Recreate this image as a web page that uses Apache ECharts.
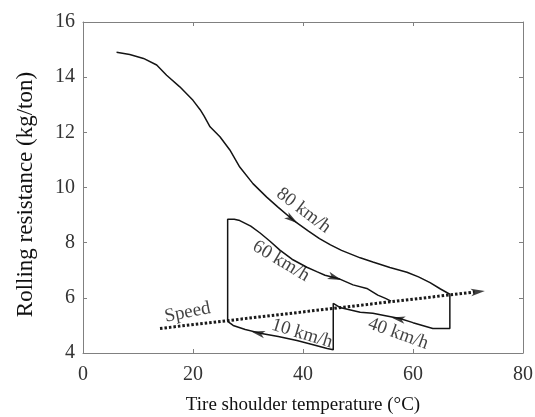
<!DOCTYPE html>
<html>
<head>
<meta charset="utf-8">
<script src="https://cdn.jsdelivr.net/npm/echarts@6/dist/echarts.min.js"></script>
<style>
html,body{margin:0;padding:0;background:#fff;}
#chart{width:535px;height:417px;}
</style>
</head>
<body>
<div id="chart"></div>
<script>
// ---- data ----
var xTicks = [0, 20, 40, 60, 80];
var yTicks = [4, 6, 8, 10, 12, 14, 16];

// 80 km/h warm-up curve
var curve80X = [6.1, 8.5, 11.0, 13.4, 15.2, 17.6, 20.0, 21.3, 22.0, 23.1, 24.9, 26.7, 28.5, 30.9, 33.4, 35.5, 38.2, 41, 43, 45, 47, 50.4, 52.7, 55.8, 58.9, 61, 63.1, 65, 66.7];
var curve80Y = [14.9, 14.82, 14.68, 14.44, 14.07, 13.65, 13.16, 12.82, 12.6, 12.2, 11.84, 11.36, 10.74, 10.14, 9.65, 9.28, 8.82, 8.42, 8.15, 7.92, 7.72, 7.45, 7.3, 7.1, 6.93, 6.76, 6.55, 6.32, 6.13];

// speed drop to 40 km/h and the 40 km/h curve
var curve40X = [66.7, 66.7, 63.6, 60, 57.6, 55, 52.7, 50.4, 46.7, 45.5];
var curve40Y = [6.13, 4.89, 4.89, 5.1, 5.25, 5.35, 5.44, 5.48, 5.65, 5.8];

// speed drop to 10 km/h and the 10 km/h curve
var curve10X = [45.5, 45.5, 44.4, 41.5, 38.9, 35.5, 32.2, 29.5, 27.3, 26.3];
var curve10Y = [5.8, 4.12, 4.16, 4.32, 4.45, 4.6, 4.72, 4.85, 5.0, 5.15];

// speed rise to 60 km/h and the 60 km/h curve
var curve60X = [26.3, 26.3, 27.5, 28.5, 30.5, 32.2, 34, 35.8, 38, 40.7, 42.5, 44, 46.7, 49.1, 51.6, 53.6, 55, 56];
var curve60Y = [5.15, 8.85, 8.85, 8.8, 8.6, 8.35, 8.05, 7.73, 7.4, 7.11, 6.95, 6.82, 6.68, 6.47, 6.34, 6.1, 5.98, 5.88];

// dotted speed trend line
var speedX = [14, 71.2];
var speedY = [4.89, 6.21];

// annotations
var annoText = ['80 km/h', '60 km/h', '40 km/h', '10 km/h', 'Speed'];
var annoX = [40.1, 36.0, 57.3, 39.8, 19.0];
var annoY = [9.16, 7.33, 4.70, 4.70, 5.47];

// direction arrows
var arrowX = [38.0, 45.8, 57.3, 31.8, 71.8];
var arrowY = [8.85, 6.73, 5.24, 4.72, 6.22];

// ---- styles ----
var annoRotate = [-37, -31, -20, -17, 11];
var arrowAngle = [-35, -19, 169, 167, 6.5];

function pairs(xs, ys) { return xs.map(function (x, i) { return [x, ys[i]]; }); }

var fontFam = '"Liberation Serif", "Times New Roman", serif';
var axisCol = '#808080';
var inkCol = '#141414';

function lineSeries(name, xs, ys) {
  return {
    name: name, type: 'line', data: pairs(xs, ys),
    showSymbol: false, symbol: 'none', silent: true,
    lineStyle: { color: inkCol, width: 1.5 },
    z: 3, animation: false
  };
}

var chart = echarts.init(document.getElementById('chart'), null, { renderer: 'canvas' });

var axisBase = {
  type: 'value',
  axisLine: { show: true, onZero: false, lineStyle: { color: axisCol, width: 1 } },
  axisTick: { show: true, inside: true, length: 4, lineStyle: { color: axisCol } },
  splitLine: { show: false }
};

var option = {
  animation: false,
  backgroundColor: '#fff',
  grid: { left: 83, right: 12, top: 22, bottom: 64, containLabel: false, outerBoundsMode: 'none' },
  xAxis: [
    Object.assign({}, axisBase, {
      min: xTicks[0], max: xTicks[xTicks.length - 1], interval: 20, position: 'bottom',
      name: 'Tire shoulder temperature (°C)', nameLocation: 'middle', nameGap: 43,
      nameTextStyle: { fontFamily: fontFam, fontSize: 19, color: '#111' },
      axisLabel: { fontFamily: fontFam, fontSize: 20, color: '#333', margin: 12 }
    }),
    Object.assign({}, axisBase, {
      min: xTicks[0], max: xTicks[xTicks.length - 1], interval: 20, position: 'top',
      axisLabel: { show: false }
    })
  ],
  yAxis: [
    Object.assign({}, axisBase, {
      min: yTicks[0], max: yTicks[yTicks.length - 1], interval: 2, position: 'left',
      name: 'Rolling resistance (kg/ton)', nameLocation: 'middle', nameGap: 46, nameRotate: 90,
      nameTextStyle: { fontFamily: fontFam, fontSize: 23, color: '#111', padding: [0, 14, 0, 0] },
      axisLabel: { fontFamily: fontFam, fontSize: 20, color: '#333', margin: 8 }
    }),
    Object.assign({}, axisBase, {
      min: yTicks[0], max: yTicks[yTicks.length - 1], interval: 2, position: 'right',
      axisLabel: { show: false }
    })
  ],
  series: [
    lineSeries('80 km/h', curve80X, curve80Y),
    lineSeries('40 km/h', curve40X, curve40Y),
    lineSeries('10 km/h', curve10X, curve10Y),
    lineSeries('60 km/h', curve60X, curve60Y),
    {
      name: 'Speed', type: 'line', data: pairs(speedX, speedY),
      showSymbol: false, symbol: 'none', silent: true,
      lineStyle: { color: '#1a1a1a', width: 3, type: [2.5, 2], cap: 'butt' },
      z: 2
    },
    {
      name: 'arrows', type: 'scatter', silent: true,
      symbol: 'path://M0,0 L12,4.5 L0,9 L3,4.5 Z', symbolKeepAspect: true,
      symbolSize: [14, 10],
      itemStyle: { color: '#111' },
      data: arrowX.map(function (x, i) {
        return { value: [x, arrowY[i]], symbolRotate: arrowAngle[i] };
      }),
      z: 5
    },
    {
      name: 'labels', type: 'scatter', silent: true,
      symbolSize: 1, itemStyle: { color: 'rgba(0,0,0,0)' },
      data: annoX.map(function (x, i) {
        return {
          value: [x, annoY[i]],
          label: { show: true, formatter: annoText[i], rotate: annoRotate[i] }
        };
      }),
      label: {
        show: true, position: 'inside', align: 'center', verticalAlign: 'middle',
        fontFamily: fontFam, fontSize: 19, color: '#111'
      },
      z: 6
    }
  ]
};
chart.setOption(option);
</script>
</body>
</html>
